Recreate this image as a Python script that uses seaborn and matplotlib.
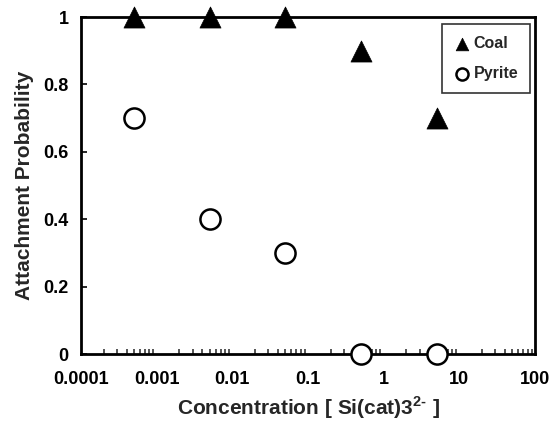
import matplotlib
matplotlib.use('Agg')
import matplotlib.pyplot as plt
import seaborn as sns
from matplotlib.ticker import LogLocator, FixedLocator, NullFormatter

conc = [0.0005, 0.005, 0.05, 0.5, 5]
coal = [1.0, 1.0, 1.0, 0.9, 0.7]
pyrite = [0.7, 0.4, 0.3, 0.0, 0.0]
xticks = [0.0001, 0.001, 0.01, 0.1, 1, 10, 100]
xlabels = ['0.0001', '0.001', '0.01', '0.1', '1', '10', '100']
yticks = [0, 0.2, 0.4, 0.6, 0.8, 1]
ylabels = ['0', '0.2', '0.4', '0.6', '0.8', '1']

sns.set_style('white')
plt.rcParams['font.family'] = ['Liberation Sans', 'DejaVu Sans']
plt.rcParams['font.weight'] = 'bold'
plt.rcParams['mathtext.fontset'] = 'custom'
plt.rcParams['mathtext.rm'] = 'Liberation Sans:bold'
plt.rcParams['mathtext.bf'] = 'Liberation Sans:bold'

fig = plt.figure(figsize=(5.52, 4.23), dpi=100)
ax = fig.add_axes([0.1467, 0.1631, 0.8225, 0.7967])

sns.scatterplot(x=conc, y=coal, marker='^', s=230, color='black',
                edgecolor='black', linewidth=0.5, label='Coal', ax=ax,
                clip_on=False, zorder=5)
sns.scatterplot(x=conc, y=pyrite, marker='o', s=210, facecolor='white',
                edgecolor='black', linewidth=1.8, label='Pyrite', ax=ax,
                clip_on=False, zorder=5)

ax.set_xscale('log')
ax.set_xlim(0.0001, 100)
ax.set_ylim(0, 1)
ax.xaxis.set_major_locator(FixedLocator(xticks))
ax.set_xticklabels(xlabels)
ax.xaxis.set_minor_locator(LogLocator(base=10, subs=range(2, 10), numticks=20))
ax.xaxis.set_minor_formatter(NullFormatter())
ax.set_yticks(yticks)
ax.set_yticklabels(ylabels)

for s in ax.spines.values():
    s.set_linewidth(2)
    s.set_color('black')

ax.tick_params(axis='x', which='major', direction='inout', length=10, width=1.6,
               labelsize=13, pad=7, colors='black')
ax.tick_params(axis='x', which='minor', direction='in', length=3.5, width=1.1,
               bottom=True)
ax.tick_params(axis='y', which='major', direction='in', length=4, width=1.2,
               labelsize=13, pad=9, colors='black', left=True)

ax.set_xlabel('Concentration [ Si(cat)3$^{\\mathbf{2}\\text{-}}$ ]', fontsize=15,
              fontweight='bold', labelpad=5)
ax.set_ylabel('Attachment Probability', fontsize=15, fontweight='bold', labelpad=7)

leg = ax.legend(loc='upper right', bbox_to_anchor=(0.989, 0.979), frameon=True,
                fancybox=False, edgecolor='black', fontsize=11.5, markerscale=0.6,
                handletextpad=0.2, handlelength=1.0, borderpad=0.75,
                labelspacing=0.95, borderaxespad=0)
leg.get_frame().set_linewidth(1.2)

fig.savefig('out.png', dpi=100)
